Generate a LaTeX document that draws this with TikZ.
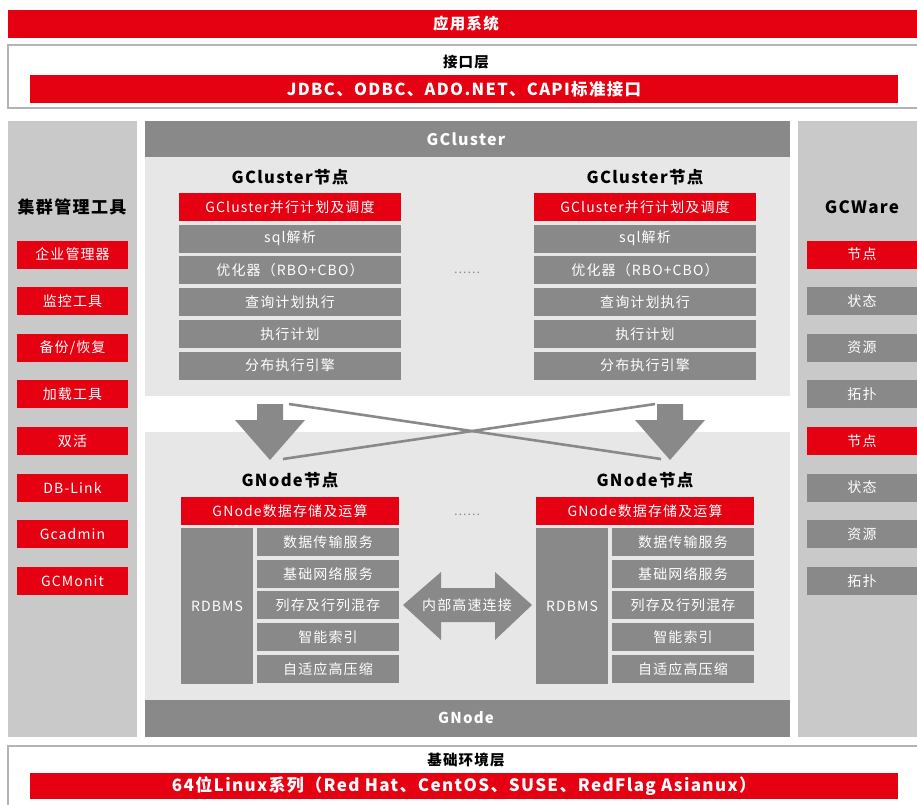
\documentclass[tikz,border=0pt]{standalone}
\usepackage{fontspec}
\setmainfont{Noto Sans CJK SC}[LetterSpace=8]
\definecolor{gsred}{HTML}{E50012}
\definecolor{gsdark}{HTML}{898989}
\definecolor{gspanel}{HTML}{C9C9C9}
\definecolor{gslight}{HTML}{E7E7E7}
\definecolor{gsline}{HTML}{B4B4B4}
\tikzset{
  cell/.style={minimum width=#1, minimum height=28pt, inner sep=0pt, text=white,
    font=\fontsize{14}{14}\selectfont},
  redcell/.style={cell=#1, fill=gsred},
  greycell/.style={cell=#1, fill=gsdark},
  title/.style={font=\fontsize{#1}{#1}\selectfont\bfseries, inner sep=0pt},
  layer/.style={draw=gsline, line width=1.2pt, fill=white}
}
\begin{document}
\begin{tikzpicture}[x=1pt,y=-1pt]
    \useasboundingbox (0,0) rectangle (917,804);
    \def\P{31.7}
    \def\Q{46.6}
    % top layers
    \fill[gsred] (8,10) rectangle (925,38);
    \node[title=15.5, text=white] (app) at (466,24) {应用系统};
    \draw[layer] (8,45) rectangle (925,108);
    \node[title=14.5] (ifc) at (466,62) {接口层};
    \node[redcell=868pt, font=\fontsize{16.5}{16.5}\selectfont\bfseries] (api) at (464,89) {JDBC、ODBC、ADO.NET、CAPI标准接口};
    % panels
    \fill[gspanel] (8,121) rectangle (137,737);
    \fill[gspanel] (798,121) rectangle (925,737);
    \fill[gsdark] (145,121) rectangle (790,157);
    \fill[gslight] (145,157) rectangle (790,396);
    \fill[gslight] (145,432) rectangle (790,700);
    \fill[gsdark] (145,700) rectangle (790,737);
    \node[title=16, text=white] (gcl) at (466,139) {GCluster};
    \node[title=15, text=white] (gnd) at (466,718) {GNode};
    % management tools
    \node[title=17] (mgt) at (72,207) {集群管理工具};
    \foreach \t [count=\i] in {企业管理器,监控工具,备份/恢复,加载工具,双活,DB-Link,Gcadmin,GCMonit}
    {
    \node[redcell=111pt] (tool\i) at (72.5,{254.5+\Q*(\i-1)}) {\t};
    }
    % gcware
    \node[title=17] (gcw) at (862,207) {GCWare};
    \foreach \t/\c [count=\i] in {节点/gsred,状态/gsdark,资源/gsdark,拓扑/gsdark,%
    节点/gsred,状态/gsdark,资源/gsdark,拓扑/gsdark}
    {
    \node[cell=110pt, fill=\c] (ware\i) at (862,{254.5+\Q*(\i-1)}) {\t};
    }
    % gcluster and gnode columns
    \foreach \s/\x in {L/290,R/645}
    {
    \node[title=16.5] (gct\s) at (\x,177) {GCluster节点};
    \node[redcell=222pt] (gc\s0) at (\x,207) {GCluster并行计划及调度};
    \foreach \t [count=\i] in {sql解析,优化器（RBO+CBO）,查询计划执行,执行计划,分布执行引擎}
    {
    \node[greycell=222pt] (gc\s\i) at (\x,{207+\P*\i}) {\t};
    }
    \node[title=16.5] (gnt\s) at (\x,480) {GNode节点};
    \node[redcell=218pt] (gn\s0) at (\x,511) {GNode数据存储及运算};
    \node[greycell=72pt, minimum height=156pt] (db\s) at ({\x-73},606) {RDBMS};
    \foreach \t [count=\i] in {数据传输服务,基础网络服务,列存及行列混存,智能索引,自适应高压缩}
    {
    \node[greycell=142pt] (gn\s\i) at ({\x+38},{510.3+\P*\i}) {\t};
    }
    }
    \node[text=gsdark, font=\fontsize{12}{12}\selectfont] (dotsA) at (467,273) {……};
    \node[text=gsdark, font=\fontsize{12}{12}\selectfont] (dotsB) at (467,515) {……};
    % down arrows
    \foreach \a/\n in {270/L,670/R}
    {
    \fill[gsdark] ({\a-13},404) -- ({\a+13},404) -- ({\a+13},420) -- ({\a+35},420)
      -- (\a,460) -- ({\a-35},420) -- ({\a-13},420) -- cycle;
    \coordinate (top\n) at (\a,404);
    \coordinate (tip\n) at (\a,459);
    }
    \draw[gsdark, line width=2.6pt] ([xshift=19pt]topL) -- ([xshift=-9pt]tipR);
    \draw[gsdark, line width=2.6pt] ([xshift=13pt]tipL) -- ([xshift=-15pt]topR);
    % internal link
    \fill[gsdark] (403,605) -- (441,572) -- (441,588) -- (495,588) -- (495,572) -- (532,605)
      -- (495,640) -- (495,622) -- (441,622) -- (441,640) -- cycle;
    \node[text=white, font=\fontsize{14}{14}\selectfont] (link) at (467,605) {内部高速连接};
    % base layer
    \draw[layer] (8,746) rectangle (925,810);
    \node[title=14.5] (base) at (466,760) {基础环境层};
    \node[redcell=868pt, minimum height=26pt, font=\fontsize{17}{17}\selectfont\bfseries] (os) at (464,786) {64位Linux系列（Red Hat、CentOS、SUSE、RedFlag Asianux）};
\end{tikzpicture}
\end{document}
